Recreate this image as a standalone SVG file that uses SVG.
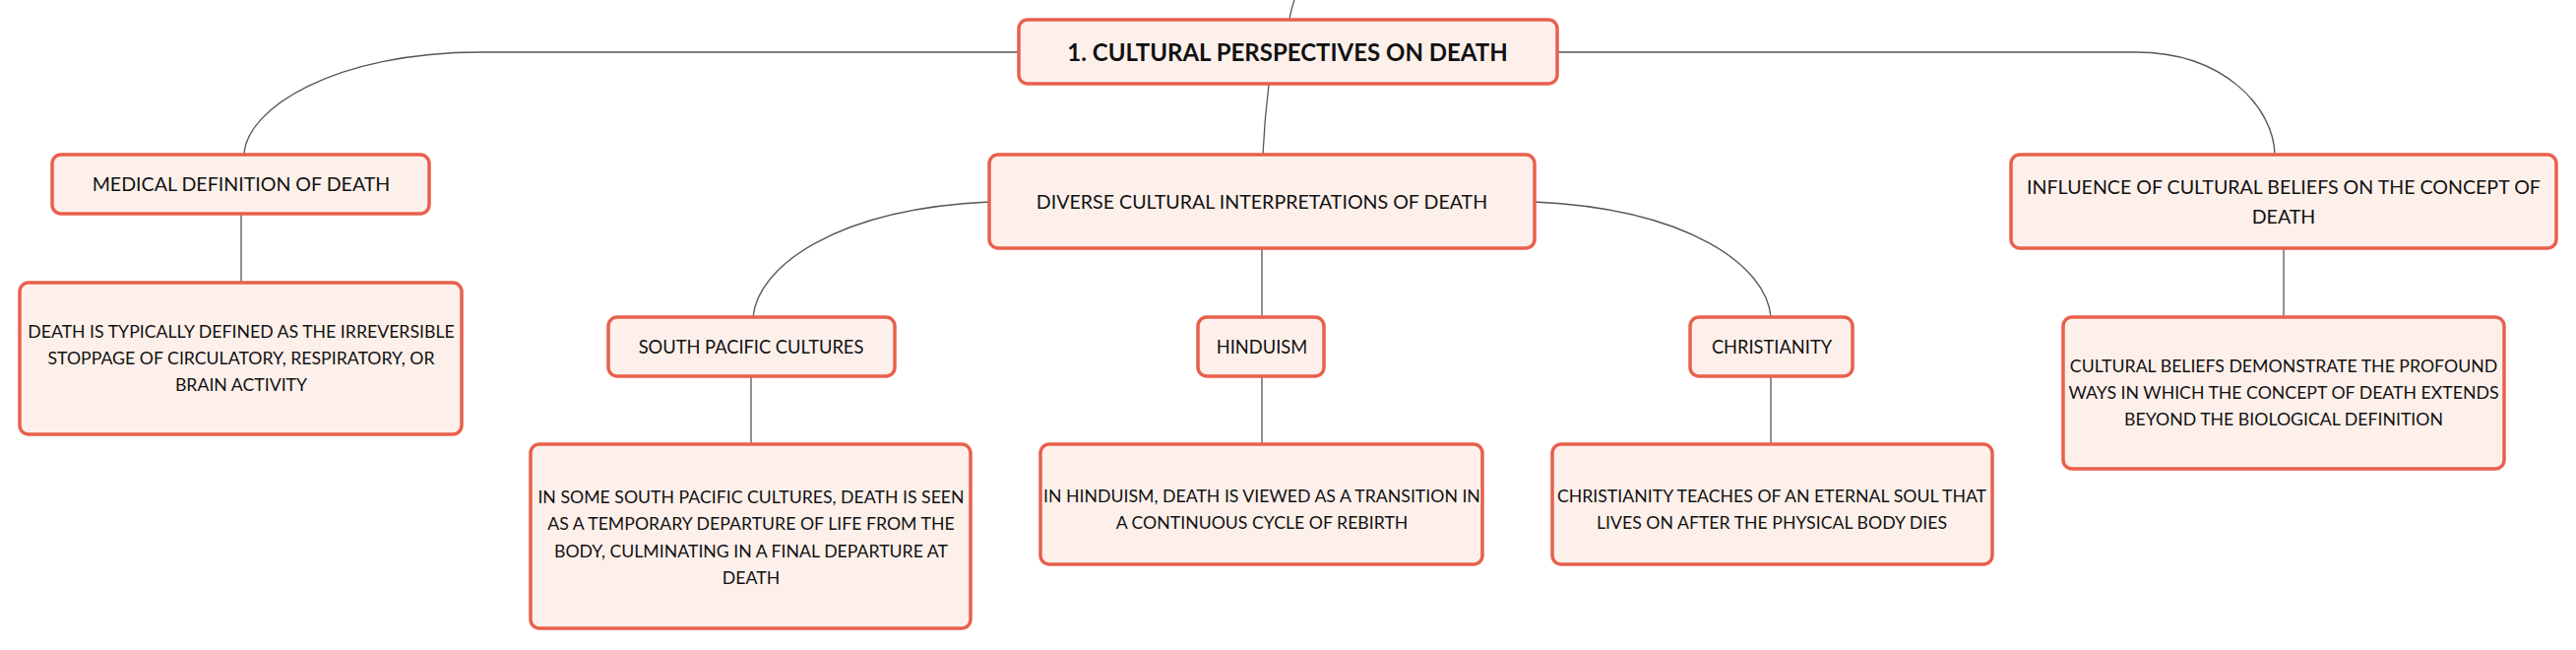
<svg xmlns="http://www.w3.org/2000/svg" width="2617" height="660" viewBox="0 0 2617 660">
<style>
.box{fill:#FDF0EB;stroke:#E8604C;stroke-width:3.5}
.t{font-family:Lato,"Noto Sans","Liberation Sans",sans-serif;font-size:17.7px;fill:#111;text-anchor:middle}
.h{font-size:19.6px}
.s{font-size:18.3px}
.b{font-weight:bold;font-size:24px}
.c{fill:none;stroke:#555;stroke-width:1.3}
</style>
<rect width="2617" height="660" fill="#ffffff"/>
<g id="connectors">
<path class="c" d="M1310,20 C1311,12 1313,6 1315,0"/>
<path class="c" d="M1035,53 L488,53 C340,53 250,110 248,157"/>
<path class="c" d="M1582,53 L2170,53 C2260,53 2310,110 2311,157"/>
<path class="c" d="M1289,86 C1286,110 1284,135 1283,157"/>
<path class="c" d="M245,217 L245,287"/>
<path class="c" d="M1005,205 C850,212 770,270 765,322"/>
<path class="c" d="M1282,252 L1282,322"/>
<path class="c" d="M1559,205 C1715,212 1795,270 1799,322"/>
<path class="c" d="M763,382 L763,451"/>
<path class="c" d="M1282,382 L1282,451"/>
<path class="c" d="M1799,382 L1799,451"/>
<path class="c" d="M2320,252 L2320,322"/>
</g>
<g id="root">
<rect class="box" x="1035" y="20" width="547" height="65" rx="9"/>
<text class="t b" x="1308" y="62">1. CULTURAL PERSPECTIVES ON DEATH</text>
</g>
<g id="medical">
<rect class="box" x="53" y="157" width="383" height="60" rx="9"/>
<text class="t h" x="245" y="194">MEDICAL DEFINITION OF DEATH</text>
</g>
<g id="medical-desc">
<rect class="box" x="20" y="287" width="449" height="154" rx="9"/>
<text class="t" x="245" y="343">DEATH IS TYPICALLY DEFINED AS THE IRREVERSIBLE</text>
<text class="t" x="245" y="370">STOPPAGE OF CIRCULATORY, RESPIRATORY, OR</text>
<text class="t" x="245" y="397">BRAIN ACTIVITY</text>
</g>
<g id="diverse">
<rect class="box" x="1005" y="157" width="554" height="95" rx="9"/>
<text class="t h" x="1282" y="212">DIVERSE CULTURAL INTERPRETATIONS OF DEATH</text>
</g>
<g id="south-pacific">
<rect class="box" x="618" y="322" width="291" height="60" rx="9"/>
<text class="t s" x="763" y="359">SOUTH PACIFIC CULTURES</text>
</g>
<g id="south-pacific-desc">
<rect class="box" x="539" y="451" width="447" height="187" rx="9"/>
<text class="t" x="763" y="511">IN SOME SOUTH PACIFIC CULTURES, DEATH IS SEEN</text>
<text class="t" x="763" y="538">AS A TEMPORARY DEPARTURE OF LIFE FROM THE</text>
<text class="t" x="763" y="566">BODY, CULMINATING IN A FINAL DEPARTURE AT</text>
<text class="t" x="763" y="593">DEATH</text>
</g>
<g id="hinduism">
<rect class="box" x="1217" y="322" width="128" height="60" rx="9"/>
<text class="t s" x="1282" y="359">HINDUISM</text>
</g>
<g id="hinduism-desc">
<rect class="box" x="1057" y="451" width="449" height="122" rx="9"/>
<text class="t" x="1282" y="510">IN HINDUISM, DEATH IS VIEWED AS A TRANSITION IN</text>
<text class="t" x="1282" y="537">A CONTINUOUS CYCLE OF REBIRTH</text>
</g>
<g id="christianity">
<rect class="box" x="1717" y="322" width="165" height="60" rx="9"/>
<text class="t s" x="1800" y="359">CHRISTIANITY</text>
</g>
<g id="christianity-desc">
<rect class="box" x="1577" y="451" width="447" height="122" rx="9"/>
<text class="t" x="1800" y="510">CHRISTIANITY TEACHES OF AN ETERNAL SOUL THAT</text>
<text class="t" x="1800" y="537">LIVES ON AFTER THE PHYSICAL BODY DIES</text>
</g>
<g id="influence">
<rect class="box" x="2043" y="157" width="554" height="95" rx="9"/>
<text class="t h" x="2320" y="197">INFLUENCE OF CULTURAL BELIEFS ON THE CONCEPT OF</text>
<text class="t h" x="2320" y="227">DEATH</text>
</g>
<g id="influence-desc">
<rect class="box" x="2096" y="322" width="448" height="154" rx="9"/>
<text class="t" x="2320" y="378">CULTURAL BELIEFS DEMONSTRATE THE PROFOUND</text>
<text class="t" x="2320" y="405">WAYS IN WHICH THE CONCEPT OF DEATH EXTENDS</text>
<text class="t" x="2320" y="432">BEYOND THE BIOLOGICAL DEFINITION</text>
</g>
</svg>
